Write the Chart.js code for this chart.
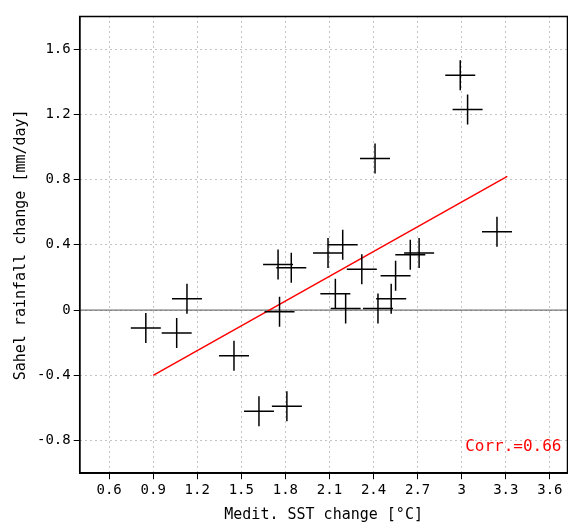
<!DOCTYPE html>
<html>
<head>
<meta charset="UTF-8">
<script src="https://cdn.jsdelivr.net/npm/chart.js"></script>
<style>body{margin:0;background:#fff;overflow:hidden}#w{width:584px;height:528px}</style>
</head>
<body>
<div id="w"><canvas id="c"></canvas></div>
<script>
const sstChange = [0.85,1.06,1.13,1.45,1.62,1.81,1.76,1.75,1.84,2.09,2.19,2.14,2.21,2.32,2.41,2.43,2.52,2.55,2.65,2.71,2.99,3.04,3.24];
const rainChange = [-0.11,-0.14,0.07,-0.28,-0.62,-0.59,-0.01,0.28,0.26,0.35,0.40,0.10,0.01,0.25,0.93,0.01,0.07,0.21,0.34,0.35,1.44,1.23,0.48];
const fitX = [0.9, 3.31];
const fitY = [-0.40, 0.82];
const xTicks = [0.6,0.9,1.2,1.5,1.8,2.1,2.4,2.7,3.0,3.3,3.6];
const yTicks = [-0.8,-0.4,0,0.4,0.8,1.2,1.6];
const corrLabel = 'Corr.=0.66';

const font = {family: 'DejaVu Sans Mono', size: 14};
const decorPlugin = {
  id: 'decor',
  beforeDatasetsDraw(ch) {
    const {ctx, chartArea: a, scales} = ch;
    const y0 = scales.y.getPixelForValue(0);
    ctx.save();
    ctx.strokeStyle = '#555';
    ctx.lineWidth = 1;
    ctx.beginPath(); ctx.moveTo(a.left, y0); ctx.lineTo(a.right, y0); ctx.stroke();
    ctx.restore();
  },
  afterDraw(ch) {
    const {ctx, chartArea: a} = ch;
    ctx.save();
    ctx.strokeStyle = '#000';
    ctx.lineWidth = 1.5;
    ctx.strokeRect(a.left, a.top, a.right - a.left, a.bottom - a.top);
    ctx.font = '16px "DejaVu Sans Mono"';
    ctx.fillStyle = 'red';
    ctx.textAlign = 'right';
    ctx.fillText(corrLabel, a.right - 6, a.bottom - 22);
    ctx.restore();
  }
};
new Chart(document.getElementById('c'), {
  type: 'scatter',
  data: {
    datasets: [{
      data: sstChange.map((x, i) => ({x, y: rainChange[i]})),
      pointStyle: 'cross', radius: 15, borderColor: '#000', borderWidth: 1.5, backgroundColor: '#000'
    }, {
      type: 'line',
      data: fitX.map((x, i) => ({x, y: fitY[i]})),
      borderColor: 'red', borderWidth: 1.5, pointRadius: 0
    }]
  },
  options: {
    animation: false, responsive: true, maintainAspectRatio: false,
    layout: {padding: {top: 14, right: 0, left: 8}},
    plugins: {legend: {display: false}, tooltip: {enabled: false}},
    scales: {
      x: {
        min: 0.4, max: 3.72,
        afterBuildTicks: s => { s.ticks = xTicks.map(v => ({value: v})); },
        ticks: {color: '#000', font, maxRotation: 0, callback: v => String(+v.toFixed(1))},
        grid: {color: '#888', tickLength: 6, tickColor: '#000'},
        border: {color: '#000', width: 1.5, dash: [1, 4]},
        title: {display: true, text: 'Medit. SST change [°C]', color: '#000', font: {family: 'DejaVu Sans Mono', size: 15}}
      },
      y: {
        min: -1.0, max: 1.8,
        afterBuildTicks: s => { s.ticks = yTicks.map(v => ({value: v})); },
        ticks: {color: '#000', font, callback: v => v === 0 ? '0' : v.toFixed(1)},
        grid: {color: '#888', tickLength: 6, tickColor: '#000'},
        border: {color: '#000', width: 1.5, dash: [1, 4]},
        title: {display: true, text: 'Sahel rainfall change [mm/day]', color: '#000', font: {family: 'DejaVu Sans Mono', size: 15}}
      }
    }
  },
  plugins: [decorPlugin]
});
</script>
</body>
</html>
